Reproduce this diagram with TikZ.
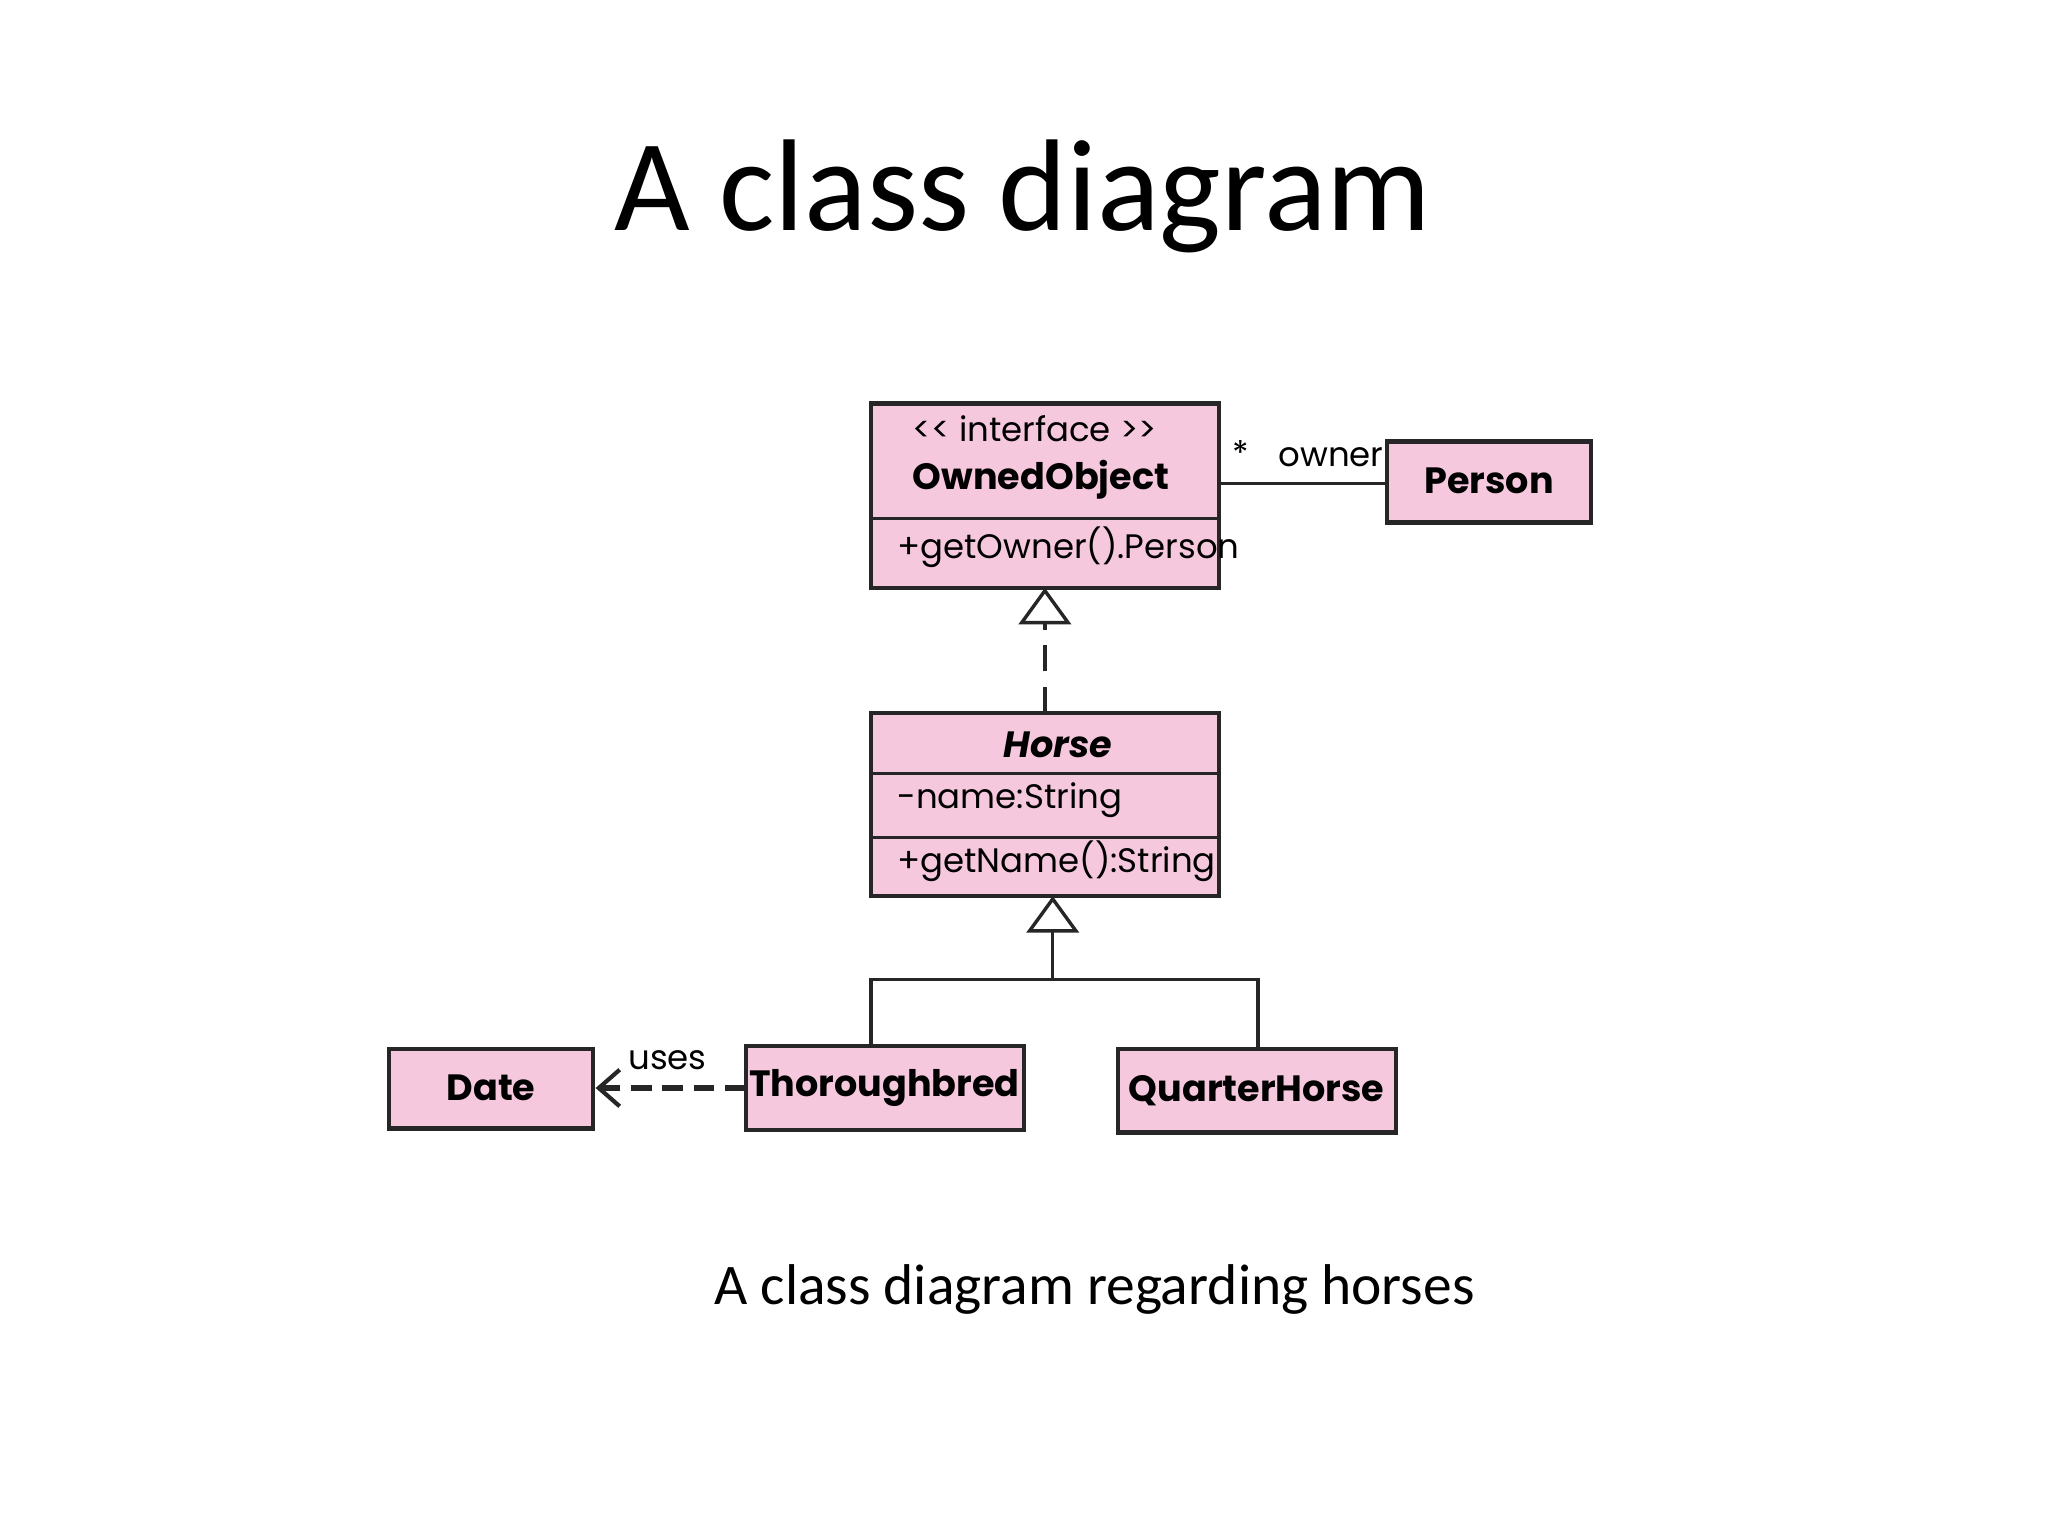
\documentclass[tikz,border=0pt]{standalone}
\usepackage{fontspec}
\setmainfont{Carlito}
\newfontfamily\uml{Poppins}
\usetikzlibrary{arrows.meta}
\definecolor{pk}{RGB}{246,200,222}
\begin{document}
\begin{tikzpicture}[x=0.5pt,y=-0.5pt,
  box/.style={draw=black!85,line width=1.6pt,fill=pk},
  ln/.style={draw=black!85,line width=1.3pt},
  t/.style={font=\uml\fontsize{13}{15}\selectfont},
  tb/.style={font=\uml\bfseries\fontsize{14}{16}\selectfont}]
\useasboundingbox (0,0) rectangle (1568,1176);
\node[font=\fontsize{50}{60}\selectfont] (title) at (783,150) {A class diagram};
\node[font=\fontsize{22}{26}\selectfont] (cap) at (838,987) {A class diagram regarding horses};
% OwnedObject
\draw[box] (667,309) rectangle (933,450);
\draw[ln] (667,397) -- (933,397);
\node[t] (st) at (792,328) {<< interface >>};
\node[tb] (oo) at (797,367) {OwnedObject};
\node[t,anchor=west] (go) at (680,419) {+getOwner().Person};
\coordinate (ooB) at (800,450);
\coordinate (ooR) at (933,370);
% Person
\draw[box] (1062,338) rectangle (1218,400);
\node[tb] (person) at (1140,368) {Person};
\coordinate (pL) at (1062,370);
\draw[ln] (ooR) -- (pL);
\node[t] (star) at (950,347) {*};
\node[t] (owner) at (1019,350) {owner};
% Horse
\draw[box] (667,546) rectangle (933,686);
\draw[ln] (667,592) -- (933,592) (667,641) -- (933,641);
\node[tb] (horse) at (810,570) {\itshape Horse};
\node[t,anchor=west] (hn) at (680,613) {-name:String};
\node[t,anchor=west] (hg) at (680,659) {+getName():String};
\coordinate (hT) at (800,546);
\draw[ln,dashed,dash pattern=on 10pt off 6pt,-{Triangle[open,length=14pt,width=20pt]}] (hT) -- (ooB);
% subclasses
\draw[box] (298,803) rectangle (454,864);
\node[tb] (date) at (376,833) {Date};
\draw[box] (571,801) rectangle (784,865);
\node[tb] (th) at (677,833) {Thoroughbred};
\draw[box] (856,803) rectangle (1069,867);
\node[tb] (qh) at (962,835) {QuarterHorse};
\coordinate (hB) at (806,686);
\coordinate (j) at (806,750);
\coordinate (jl) at (667,750);
\coordinate (jr) at (963,750);
\draw[ln] (667,801) -- (jl) -- (jr) -- (963,803);
\draw[ln,-{Triangle[open,length=14pt,width=20pt]}] (j) -- (hB);
\draw[draw=black!85,line width=2.2pt,dash pattern=on 8pt off 4pt,-{Straight Barb[length=8pt,width=14pt,line width=1.6pt]}] (571,833) -- (456,833);
\node[t] (uses) at (511,812) {uses};
\end{tikzpicture}
\end{document}
